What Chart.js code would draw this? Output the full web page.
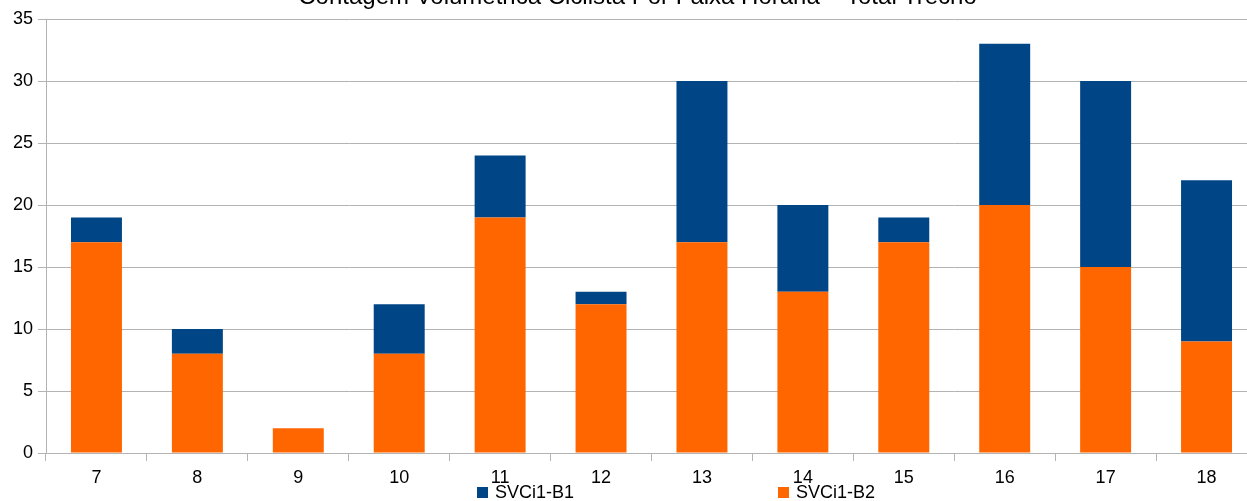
<!DOCTYPE html>
<html><head><meta charset="utf-8">
<script src="https://cdn.jsdelivr.net/npm/chart.js@4"></script>
<style>
html,body{margin:0;padding:0;background:#fff;overflow:hidden;width:1247px;height:501px;}
#wrap{position:absolute;left:0;top:0;width:1262px;height:501px;}
#title{position:absolute;left:0;width:1275px;text-align:center;font-family:"Liberation Sans",Arial,sans-serif;font-size:24px;line-height:24px;top:-16px;color:#000;white-space:nowrap;}
.leg{position:absolute;font-family:"Liberation Sans",Arial,sans-serif;font-size:18px;line-height:18px;color:#000;top:483px;}
.leg span{display:inline-block;width:11px;height:11px;margin-right:7px;vertical-align:0px;}
</style></head>
<body>
<div id="wrap"><canvas id="c" width="1262" height="501"></canvas></div>
<div id="title">Contagem Volumétrica Ciclista Por Faixa Horária – Total Trecho</div>
<div class="leg" style="left:477px"><span style="background:#004586"></span>SVCi1-B1</div>
<div class="leg" style="left:778px"><span style="background:#ff6600"></span>SVCi1-B2</div>
<script>
const categories = ["7","8","9","10","11","12","13","14","15","16","17","18"];
const seriesB1 = [2,2,0,4,5,1,13,7,2,13,15,13];
const seriesB2 = [17,8,2,8,19,12,17,13,17,20,15,9];
const yTicks = [0,5,10,15,20,25,30,35];
const font = {family:"'Liberation Sans', Arial, sans-serif", size:18};
new Chart(document.getElementById('c'), {
  type:'bar',
  data:{labels:categories, datasets:[
    {label:'SVCi1-B2', data:seriesB2, backgroundColor:'#ff6600', categoryPercentage:1, barPercentage:0.505},
    {label:'SVCi1-B1', data:seriesB1, backgroundColor:'#004586', categoryPercentage:1, barPercentage:0.505}
  ]},
  options:{
    responsive:false, animation:false, devicePixelRatio:1,
    layout:{padding:{top:19,right:5,left:0,bottom:0}},
    plugins:{legend:{display:false}, tooltip:{enabled:false}},
    scales:{
      x:{stacked:true, offset:true,
         grid:{offset:true, drawOnChartArea:false, drawTicks:true, tickLength:8, color:'#b3b3b3'},
         border:{color:'#b3b3b3'},
         ticks:{font:font, color:'#000', padding:6, maxRotation:0},
         afterFit:s=>{s.height=48;}},
      y:{stacked:true, min:0, max:35,
         afterBuildTicks:s=>{s.ticks = yTicks.map(v=>({value:v}));},
         grid:{color:'#b3b3b3', tickLength:8},
         border:{color:'#b3b3b3'},
         ticks:{font:font, color:'#000', padding:5},
         afterFit:s=>{s.width=46;}}
    }
  }
});
</script>
</body></html>
